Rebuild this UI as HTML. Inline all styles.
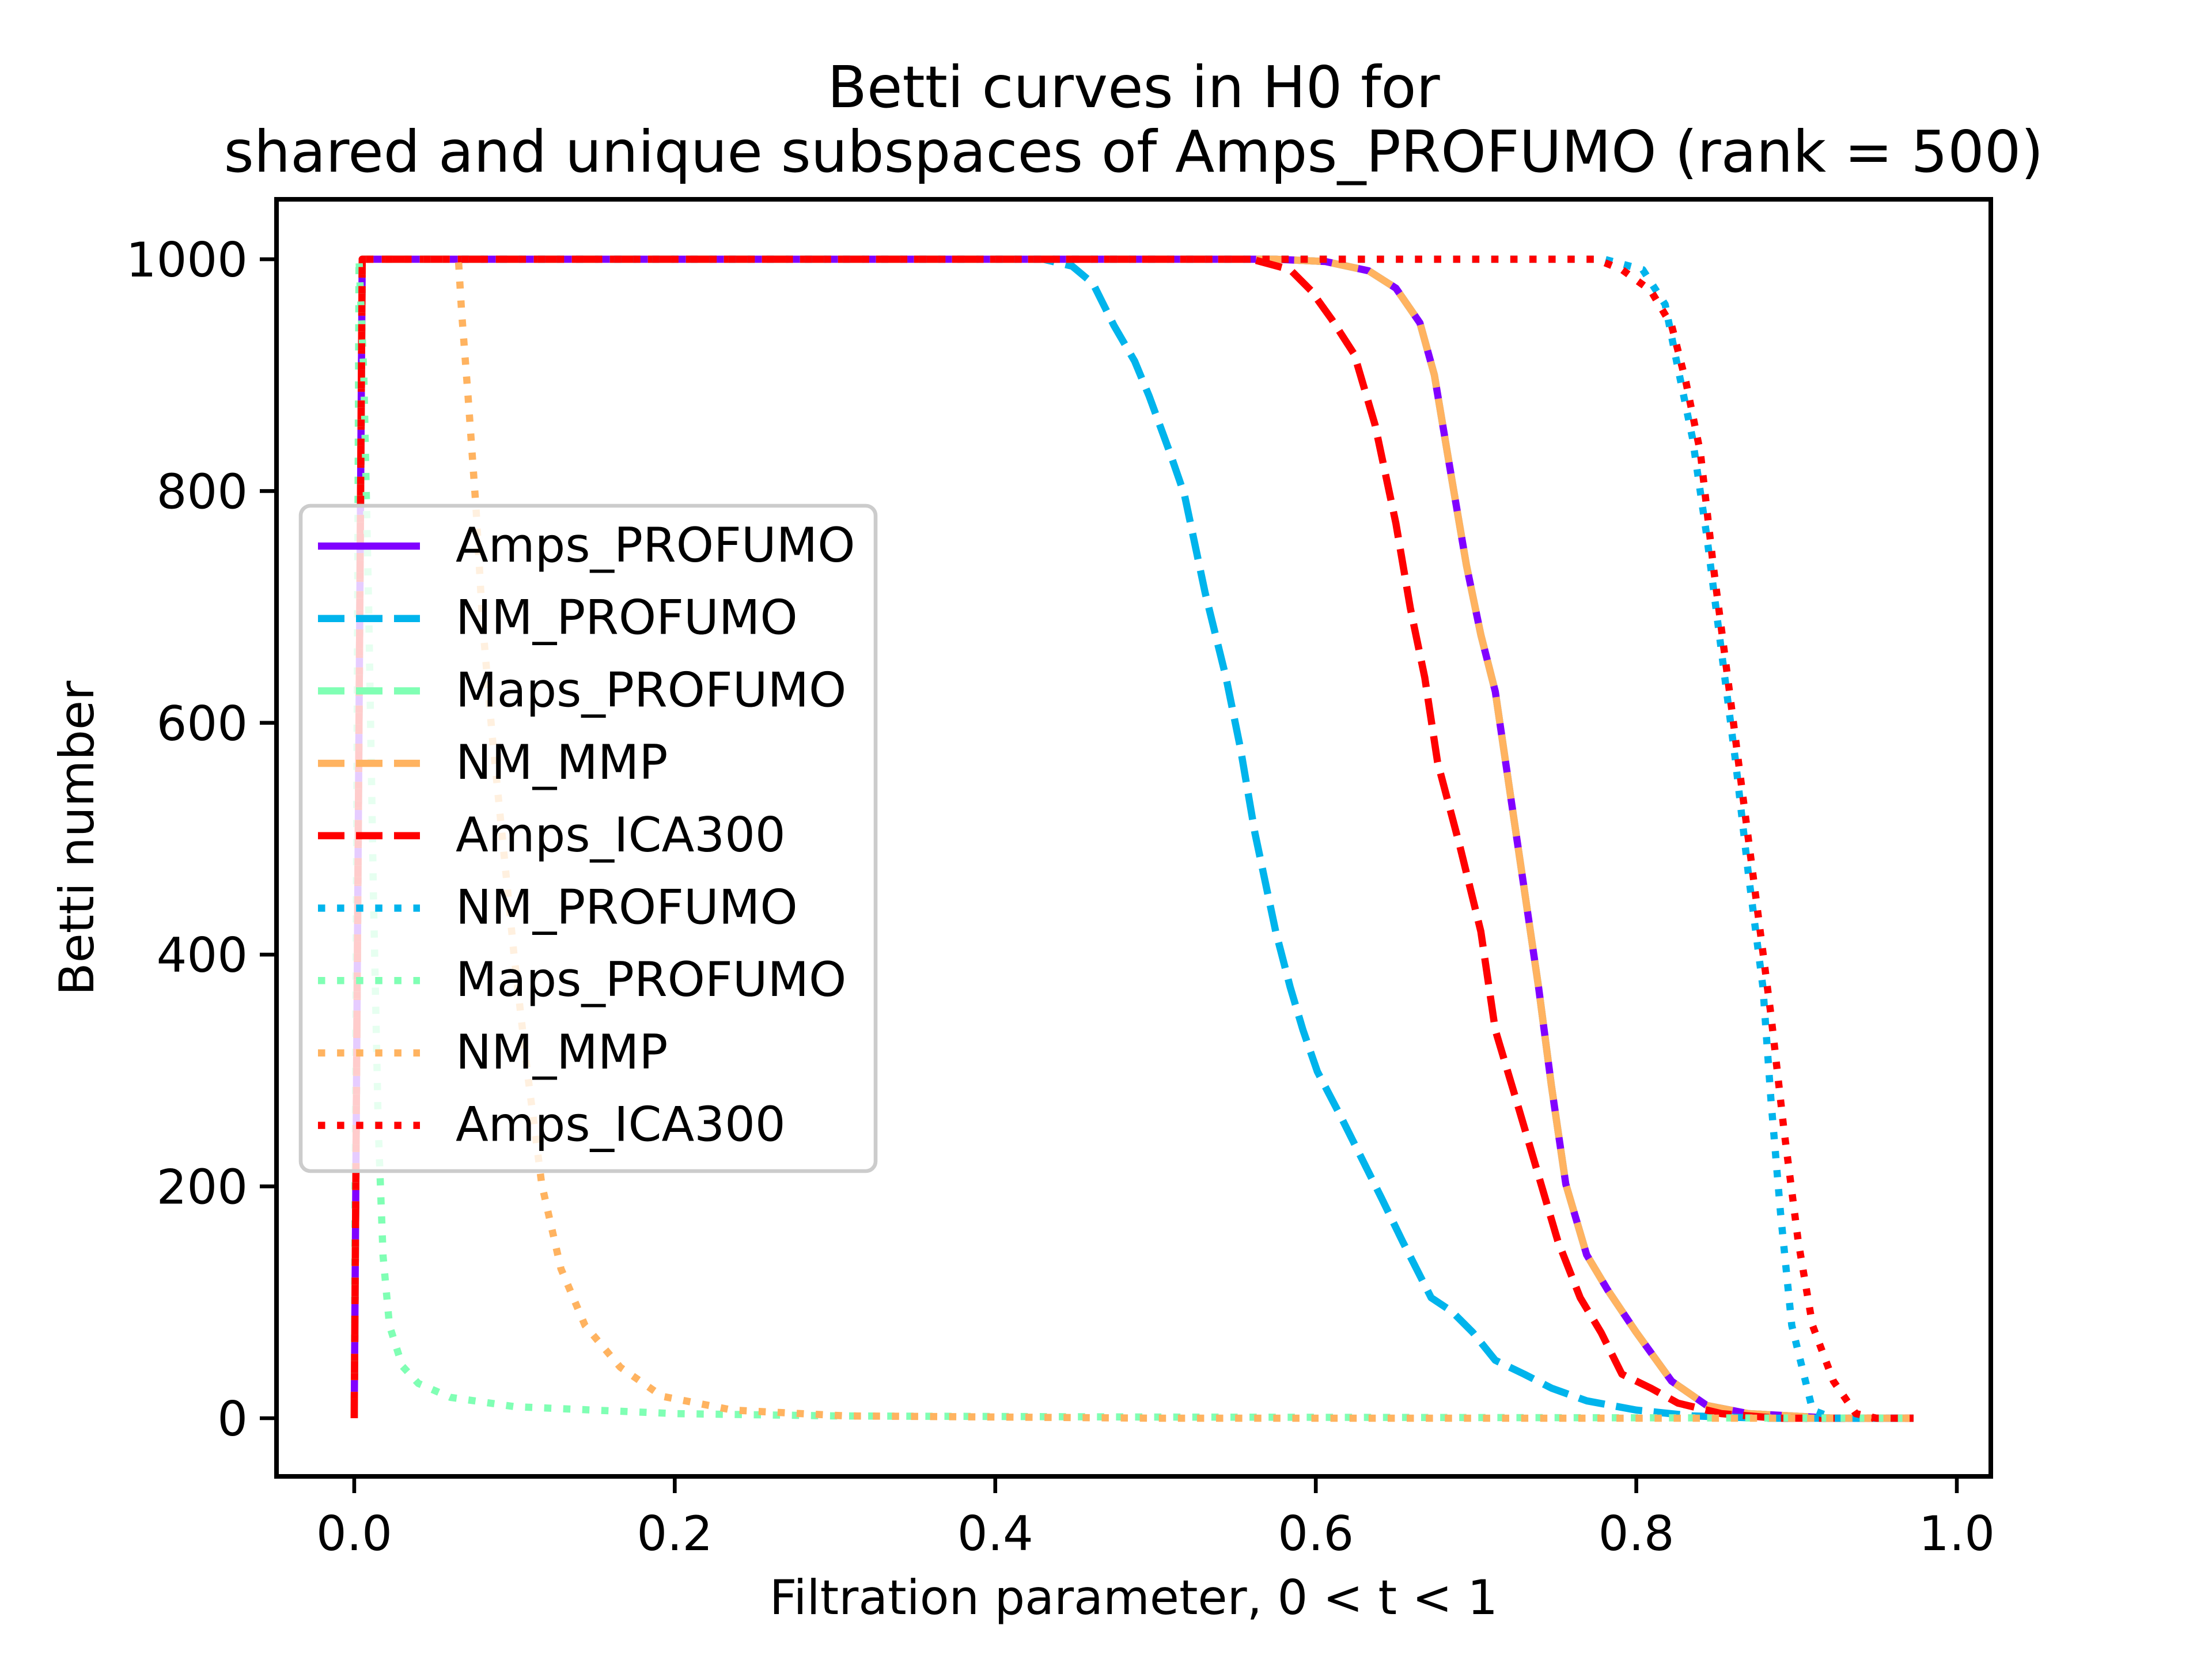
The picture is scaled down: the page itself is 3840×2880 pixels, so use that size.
<!DOCTYPE html>
<html><head><meta charset="utf-8"><style>
html,body{margin:0;padding:0;background:#fff}
svg{display:block;font-family:"DejaVu Sans","Liberation Sans",sans-serif}
</style></head><body>
<svg id="chart" xmlns="http://www.w3.org/2000/svg" width="3840" height="2880" viewBox="0 0 3840 2880">
<rect width="3840" height="2880" fill="#fff"/>
<g id="title" font-size="100" text-anchor="middle" fill="#000">
<text x="1968" y="186">Betti curves in H0 for</text>
<text x="1968" y="298">shared and unique subspaces of Amps_PROFUMO (rank = 500)</text>
</g>
<g id="plot"></g>
<rect x="480" y="346" width="2976" height="2217" fill="none" stroke="#000" stroke-width="8"/>
<g id="ticks"></g>
<text x="1968" y="2802" font-size="83" text-anchor="middle">Filtration parameter, 0 &lt; t &lt; 1</text>
<text x="162" y="1455" font-size="83" text-anchor="middle" transform="rotate(-90 162 1455)">Betti number</text>
<g id="legend"></g>
</svg>
<script>
const xTicks=[0,0.2,0.4,0.6,0.8,1.0];
const xTickLabels=["0.0","0.2","0.4","0.6","0.8","1.0"];
const yTicks=[0,200,400,600,800,1000];
const yTickLabels=["0","200","400","600","800","1000"];
const seriesNames=["Amps_PROFUMO","NM_PROFUMO","Maps_PROFUMO","NM_MMP","Amps_ICA300","NM_PROFUMO","Maps_PROFUMO","NM_MMP","Amps_ICA300"];
const seriesColors=["#8000ff","#00b4ec","#80ffb4","#ffb360","#ff0000","#00b4ec","#80ffb4","#ffb360","#ff0000"];
const seriesStyles=["solid","dashed","dashed","dashed","dashed","dotted","dotted","dotted","dotted"];
const sharedT=[0,0.005,0.55,0.575,0.606,0.633,0.650,0.665,0.674,0.685,0.694,0.703,0.712,0.721,0.730,0.739,0.747,0.756,0.769,0.782,0.800,0.822,0.844,0.870,0.923,0.973];
const sharedB=[0,1000,1000,1000,998,990,975,945,900,809,736,676,627,542,457,372,287,202,141,111,74,32,11,4,0,0];
const nmProfDashT=[0,0.005,0.43,0.448,0.461,0.474,0.487,0.496,0.509,0.518,0.531,0.544,0.553,0.562,0.575,0.584,0.592,0.601,0.615,0.628,0.641,0.654,0.672,0.685,0.698,0.712,0.730,0.747,0.769,0.800,0.835,0.879,0.973];
const nmProfDashB=[0,1000,1000,994,979,943,912,882,833,797,712,639,578,505,420,372,335,299,262,226,190,153,104,92,74,50,38,26,15,7,2,0,0];
const icaDashT=[0,0.005,0.56,0.584,0.597,0.610,0.624,0.637,0.650,0.659,0.668,0.676,0.690,0.703,0.712,0.725,0.738,0.751,0.765,0.778,0.791,0.809,0.826,0.853,0.888,0.973];
const icaDashB=[0,1000,1000,991,973,948,918,857,772,699,639,566,493,420,335,275,214,153,104,74,38,26,13,4,0,0];
const nmProfDotT=[0,0.005,0.78,0.804,0.818,0.826,0.835,0.844,0.853,0.862,0.870,0.879,0.884,0.890,0.897,0.910,0.923,0.973];
const nmProfDotB=[0,1000,1000,991,961,906,846,761,663,566,469,372,275,177,80,7,0,0];
const icaDotT=[0,0.005,0.775,0.791,0.809,0.822,0.831,0.840,0.848,0.857,0.866,0.875,0.884,0.892,0.901,0.910,0.923,0.937,0.950,0.973];
const icaDotB=[0,1000,1000,991,973,943,894,833,736,639,542,445,348,250,153,80,32,4,0,0];
const mapsDotT=[0,0.003,0.006,0.009,0.012,0.015,0.018,0.022,0.03,0.04,0.06,0.1,0.2,0.3,0.5,0.973];
const mapsDotB=[0,1000,900,700,450,250,140,80,45,30,18,10,4,2,1,0];
const mmpDotT=[0,0.005,0.065,0.067,0.071,0.076,0.080,0.086,0.093,0.100,0.108,0.117,0.129,0.144,0.166,0.192,0.236,0.307,0.5,0.973];
const mmpDotB=[0,1000,1000,955,882,785,688,590,493,396,299,202,129,80,44,19,7,2,0,0];

const X0=480,X1=3456,Y0=346,Y1=2563;
const xMin=-0.0485,xMax=1.0212,yMin=-50.2,yMax=1051.7;
function sx(v){return X0+(v-xMin)/(xMax-xMin)*(X1-X0);}
function sy(v){return Y1-(v-yMin)/(yMax-yMin)*(Y1-Y0);}
const NS="http://www.w3.org/2000/svg";
const seriesT=[sharedT,nmProfDashT,sharedT,sharedT,icaDashT,nmProfDotT,mapsDotT,mmpDotT,icaDotT];
const seriesB=[sharedB,nmProfDashB,sharedB,sharedB,icaDashB,nmProfDotB,mapsDotB,mmpDotB,icaDotB];
function dash(s){return s==="dashed"?"46 20":(s==="dotted"?"12.5 20.6":"none");}
const plot=document.getElementById('plot');
for(let i=0;i<seriesNames.length;i++){
  const p=document.createElementNS(NS,'path');
  let d="";
  for(let k=0;k<seriesT[i].length;k++){d+=(k?"L":"M")+sx(seriesT[i][k]).toFixed(1)+","+sy(seriesB[i][k]).toFixed(1);}
  p.setAttribute('d',d);p.setAttribute('fill','none');
  p.setAttribute('stroke',seriesColors[i]);p.setAttribute('stroke-width','12.5');
  p.setAttribute('stroke-dasharray',dash(seriesStyles[i]));
  p.setAttribute('stroke-linejoin','round');
  
  
  plot.appendChild(p);
}
const tg=document.getElementById('ticks');
xTicks.forEach((v,i)=>{
  const l=document.createElementNS(NS,'line');
  l.setAttribute('x1',sx(v));l.setAttribute('x2',sx(v));l.setAttribute('y1',Y1);l.setAttribute('y2',Y1+29);
  l.setAttribute('stroke','#000');l.setAttribute('stroke-width','6.6');
  
  
  tg.appendChild(l);
  const t=document.createElementNS(NS,'text');
  t.setAttribute('x',sx(v));t.setAttribute('y',Y1+128);t.setAttribute('font-size','83');t.setAttribute('text-anchor','middle');
  t.textContent=xTickLabels[i];
  
  
  tg.appendChild(t);
});
yTicks.forEach((v,i)=>{
  const l=document.createElementNS(NS,'line');
  l.setAttribute('x1',X0-29);l.setAttribute('x2',X0);l.setAttribute('y1',sy(v));l.setAttribute('y2',sy(v));
  l.setAttribute('stroke','#000');l.setAttribute('stroke-width','6.6');
  
  
  tg.appendChild(l);
  const t=document.createElementNS(NS,'text');
  t.setAttribute('x',X0-50);t.setAttribute('y',sy(v)+30);t.setAttribute('font-size','83');t.setAttribute('text-anchor','end');
  t.textContent=yTickLabels[i];
  
  
  tg.appendChild(t);
});
const lg=document.getElementById('legend');
const box=document.createElementNS(NS,'rect');
box.setAttribute('x',522);box.setAttribute('y',878);box.setAttribute('width',998);box.setAttribute('height',1155);
box.setAttribute('rx',17);box.setAttribute('fill','#fff');box.setAttribute('fill-opacity','0.8');
box.setAttribute('stroke','#ccc');box.setAttribute('stroke-width','6.6');


lg.appendChild(box);
seriesNames.forEach((n,i)=>{
  const y=948+i*125.7;
  const l=document.createElementNS(NS,'line');
  l.setAttribute('x1',552);l.setAttribute('x2',729);l.setAttribute('y1',y);l.setAttribute('y2',y);
  l.setAttribute('stroke',seriesColors[i]);l.setAttribute('stroke-width','12.5');
  l.setAttribute('stroke-dasharray',dash(seriesStyles[i]));
  
  
  lg.appendChild(l);
  const t=document.createElementNS(NS,'text');
  t.setAttribute('x',791);t.setAttribute('y',y+27);t.setAttribute('font-size','83');
  t.textContent=n;
  
  
  lg.appendChild(t);
});
</script>
</body></html>
